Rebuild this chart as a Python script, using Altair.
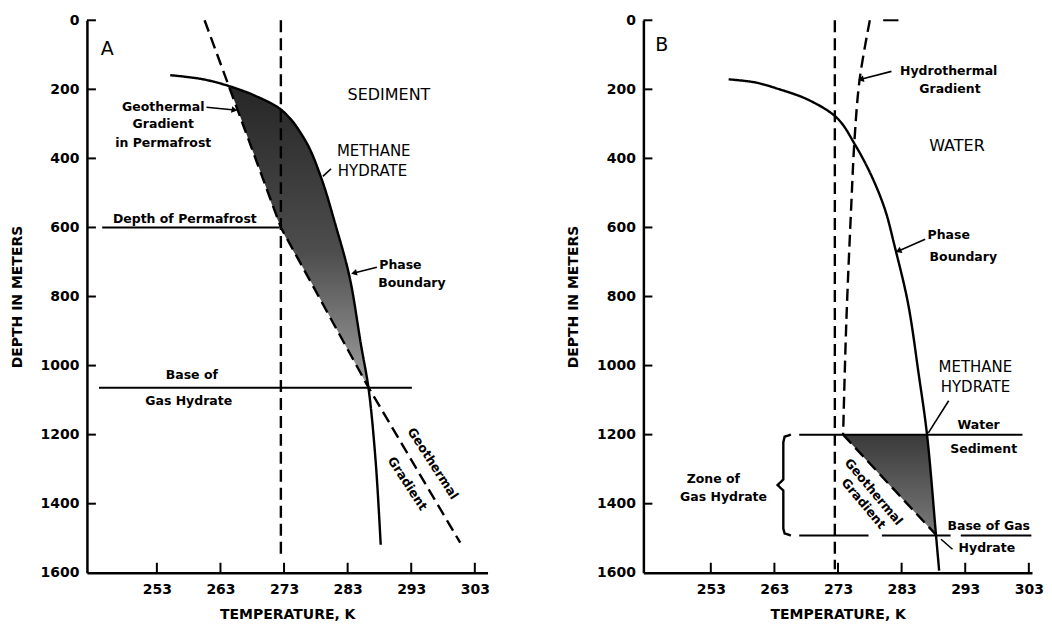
import altair as alt
import pandas as pd

FONT = "DejaVu Sans"

# ---------------- axis values ----------------
x_ticks = [253, 263, 273, 283, 293, 303]
y_ticks = [0, 200, 400, 600, 800, 1000, 1200, 1400, 1600]

# ---------------- Panel A (sediment / permafrost) ----------------
a_phase_T = [255.1, 260.0, 263.9, 268.5, 272.8, 276.4, 278.8, 281.1, 283.3, 285.1, 286.3, 287.4, 288.2]
a_phase_d = [159, 170, 188, 219, 263, 350, 454, 593, 743, 940, 1068, 1276, 1519]
a_geo_T = [260.5, 272.5, 286.3, 300.7]
a_geo_d = [0, 600, 1064, 1513]
a_freeze_T = [272.5, 272.5]
a_freeze_d = [0, 1555]
a_shade_d = [188, 219, 263, 350, 454, 600, 743, 940, 1064]
a_shade_L = [264.1, 264.9, 265.8, 267.5, 269.6, 272.5, 276.8, 282.6, 286.3]
a_shade_R = [264.1, 268.5, 272.8, 276.4, 278.8, 281.2, 283.3, 285.1, 286.3]
a_hline_T = [244.4, 243.9]
a_hline_T2 = [272.3, 293.1]
a_hline_d = [600, 1064]
a_lead_T = [260.8, 287.6, 280.4]
a_lead_d = [252, 715, 430]
a_lead_T2 = [265.2, 284.0, 279.1]
a_lead_d2 = [260, 732, 452]
a_head_T = [265.2, 284.0]
a_head_d = [260, 732]
a_head_ang = [10, 166]
a_big_txt = ["A", "SEDIMENT", "METHANE", "HYDRATE"]
a_big_T = [245.2, 289.5, 287.1, 286.9]
a_big_d = [84, 217, 379, 437]
a_big_fs = [19, 16, 15, 15]
a_small_txt = ["Geothermal", "Gradient", "in Permafrost", "Depth of  Permafrost",
               "Phase", "Boundary", "Base  of", "Gas  Hydrate", "Geothermal", "Gradient"]
a_small_T = [254.0, 254.0, 254.0, 257.4, 291.3, 293.1, 258.5, 258.0, 296.4, 292.4]
a_small_d = [252, 301, 356, 576, 709, 761, 1027, 1102, 1284, 1342]
a_small_ang = [0, 0, 0, 0, 0, 0, 0, 0, 57, 57]

# ---------------- Panel B (water / sediment) ----------------
b_phase_T = [255.8, 260.0, 263.3, 268.4, 272.9, 275.7, 278.3, 280.4, 281.9, 284.0, 285.7, 287.0, 288.4, 288.9]
b_phase_d = [171, 180, 197, 231, 284, 361, 452, 549, 654, 819, 1027, 1201, 1490, 1594]
b_hydro_T = [278.0, 276.4, 275.6, 275.1, 274.3, 273.8]
b_hydro_d = [0, 171, 344, 529, 877, 1201]
b_geo_T = [273.8, 288.4]
b_geo_d = [1200, 1490]
b_freeze_T = [272.5, 272.5]
b_freeze_d = [0, 1590]
b_shade_d = [1200, 1350, 1490]
b_shade_L = [273.8, 281.3, 288.4]
b_shade_R = [287.0, 287.7, 288.4]
b_hline_T = [266.9, 266.9, 279.9, 292.3, 280.1]
b_hline_T2 = [302.0, 277.8, 290.7, 303.4, 282.5]
b_hline_d = [1200, 1492, 1492, 1492, 0]
b_brace_T = [265.6, 264.6, 264.4, 264.4, 263.5, 264.4, 264.4, 264.6, 265.6]
b_brace_d = [1200, 1206, 1222, 1330, 1346, 1362, 1472, 1486, 1492]
b_lead_T = [281.4, 286.7, 290.4, 289.2]
b_lead_d = [148, 634, 1102, 1503]
b_lead_T2 = [276.6, 282.5, 287.2, 291.0]
b_lead_d2 = [171, 668, 1195, 1532]
b_head_T = [276.6, 282.5]
b_head_d = [171, 668]
b_head_ang = [166, 157]
b_big_txt = ["B", "WATER", "METHANE", "HYDRATE"]
b_big_T = [245.3, 291.7, 294.6, 294.6]
b_big_d = [72, 365, 1004, 1062]
b_big_fs = [19, 16, 15, 15]
b_small_txt = ["Hydrothermal", "Gradient", "Phase", "Boundary", "Water", "Sediment",
               "Zone  of", "Gas  Hydrate", "Base  of  Gas", "Hydrate", "Geothermal", "Gradient"]
b_small_T = [290.4, 290.6, 290.4, 292.7, 295.1, 295.9, 253.4, 255.0, 296.7, 296.4, 278.6, 277.0]
b_small_d = [148, 200, 622, 686, 1172, 1241, 1328, 1380, 1465, 1527, 1366, 1400]
b_small_ang = [0, 0, 0, 0, 0, 0, 0, 0, 0, 0, 50, 50]

H = 553


def curves_df(items):
    rows = []
    for cid, style, Ts, ds in items:
        for i, (t, d) in enumerate(zip(Ts, ds)):
            rows.append({"id": cid, "style": style, "i": i, "T": t, "d": d})
    return pd.DataFrame(rows)


def panel(xdom, width, smooth, straight, shade, shade_stops, hlines, leads, heads, big, small):
    xs = alt.Scale(domain=xdom, nice=False, zero=False)
    ys = alt.Scale(domain=[0, 1600], reverse=True, nice=False, zero=False)
    ax = alt.Axis(values=x_ticks, title="TEMPERATURE,  K", ticks=False, grid=False,
                  labelPadding=10, titlePadding=11, labelFlush=False)
    ay = alt.Axis(values=y_ticks, title="DEPTH IN METERS", ticks=False, grid=False,
                  labelPadding=8, titlePadding=16, format="d")

    def X(f):
        return alt.X(f, scale=xs, axis=ax)

    def Y(f):
        return alt.Y(f, scale=ys, axis=ay)

    dash_enc = alt.StrokeDash("style:N", legend=None,
                              scale=alt.Scale(domain=["solid", "dash"], range=[[1, 0], [12, 6]]))

    sd, sl, sr = shade
    area = alt.Chart(pd.DataFrame({"d": sd, "T": sl, "R": sr})).mark_area(
        orient="horizontal", interpolate="monotone",
        color=alt.Gradient(gradient="linear", x1=0, x2=0, y1=0, y2=1,
                           stops=[alt.GradientStop(color=c, offset=o) for o, c in shade_stops]),
    ).encode(x=X("T:Q"), x2="R:Q", y=Y("d:Q"))

    layers = [area]
    for items, interp in ((smooth, "catmull-rom"), (straight, "linear")):
        layers.append(
            alt.Chart(curves_df(items)).mark_line(color="black", strokeWidth=2.4,
                                                  interpolate=interp).encode(
                x=X("T:Q"), y=Y("d:Q"), detail="id:N", order="i:Q", strokeDash=dash_enc)
        )

    hT, hT2, hd = hlines
    layers.append(alt.Chart(pd.DataFrame({"T": hT, "T2": hT2, "d": hd})).mark_rule(
        color="black", strokeWidth=2).encode(x=X("T:Q"), x2="T2:Q", y=Y("d:Q")))

    lT, ld, lT2, ld2 = leads
    layers.append(alt.Chart(pd.DataFrame({"T": lT, "d": ld, "T2": lT2, "d2": ld2})).mark_rule(
        color="black", strokeWidth=1.6).encode(x=X("T:Q"), x2="T2:Q", y=Y("d:Q"), y2="d2:Q"))

    aT, ad, aa = heads
    layers.append(alt.Chart(pd.DataFrame({"T": aT, "d": ad, "ang": aa})).mark_point(
        shape="triangle-right", filled=True, size=45, color="black", opacity=1).encode(
        x=X("T:Q"), y=Y("d:Q"), angle=alt.Angle("ang:Q", scale=None)))

    bt, bT, bd, bf = big
    layers.append(alt.Chart(pd.DataFrame({"txt": bt, "T": bT, "d": bd, "fs": bf})).mark_text(
        font=FONT, fontWeight="normal", color="black", baseline="middle", align="center").encode(
        x=X("T:Q"), y=Y("d:Q"), text="txt:N", size=alt.Size("fs:Q", scale=None)))

    st, sT, sd2, sa = small
    layers.append(alt.Chart(pd.DataFrame({"txt": st, "T": sT, "d": sd2, "ang": sa})).mark_text(
        font=FONT, fontWeight="bold", fontSize=12.5, color="black", baseline="middle",
        align="center").encode(
        x=X("T:Q"), y=Y("d:Q"), text="txt:N", angle=alt.Angle("ang:Q", scale=None)))

    layers.append(alt.Chart(pd.DataFrame({"d": y_ticks[:-1]})).mark_rule(
        color="black", strokeWidth=2).encode(y=Y("d:Q"), x=alt.value(0), x2=alt.value(9)))
    layers.append(alt.Chart(pd.DataFrame({"T": x_ticks})).mark_rule(
        color="black", strokeWidth=2).encode(x=X("T:Q"), y=alt.value(H), y2=alt.value(H - 10)))

    return alt.layer(*layers).properties(width=width, height=H)


panel_a = panel(
    [242, 305], 401,
    [("phase", "solid", a_phase_T, a_phase_d)],
    [("geo", "dash", a_geo_T, a_geo_d),
     ("freeze", "dash", a_freeze_T, a_freeze_d)],
    (a_shade_d, a_shade_L, a_shade_R),
    [(0, "#262626"), (0.55, "#4d4d4d"), (1, "#a0a0a0")],
    (a_hline_T, a_hline_T2, a_hline_d),
    (a_lead_T, a_lead_d, a_lead_T2, a_lead_d2),
    (a_head_T, a_head_d, a_head_ang),
    (a_big_txt, a_big_T, a_big_d, a_big_fs),
    (a_small_txt, a_small_T, a_small_d, a_small_ang),
)

panel_b = panel(
    [242.4, 303.5], 389,
    [("phase", "solid", b_phase_T, b_phase_d),
     ("hydro", "dash", b_hydro_T, b_hydro_d)],
    [("brace", "solid", b_brace_T, b_brace_d),
     ("geo", "dash", b_geo_T, b_geo_d),
     ("freeze", "dash", b_freeze_T, b_freeze_d)],
    (b_shade_d, b_shade_L, b_shade_R),
    [(0, "#3a3a3a"), (1, "#7a7a7a")],
    (b_hline_T, b_hline_T2, b_hline_d),
    (b_lead_T, b_lead_d, b_lead_T2, b_lead_d2),
    (b_head_T, b_head_d, b_head_ang),
    (b_big_txt, b_big_T, b_big_d, b_big_fs),
    (b_small_txt, b_small_T, b_small_d, b_small_ang),
)

chart = alt.hconcat(panel_a, panel_b, spacing=77).properties(
    padding={"left": 2, "top": 5, "right": 0, "bottom": 0}
).configure_view(stroke=None).configure_axis(
    domainColor="black", domainWidth=2.5, labelColor="black", labelFont=FONT,
    labelFontSize=14, labelFontWeight="bold", titleFont=FONT, titleFontSize=14,
    titleFontWeight="bold", titleColor="black", grid=False,
).configure_concat(spacing=77)

chart.save("out.html", embed_options={"renderer": "svg", "actions": False})
